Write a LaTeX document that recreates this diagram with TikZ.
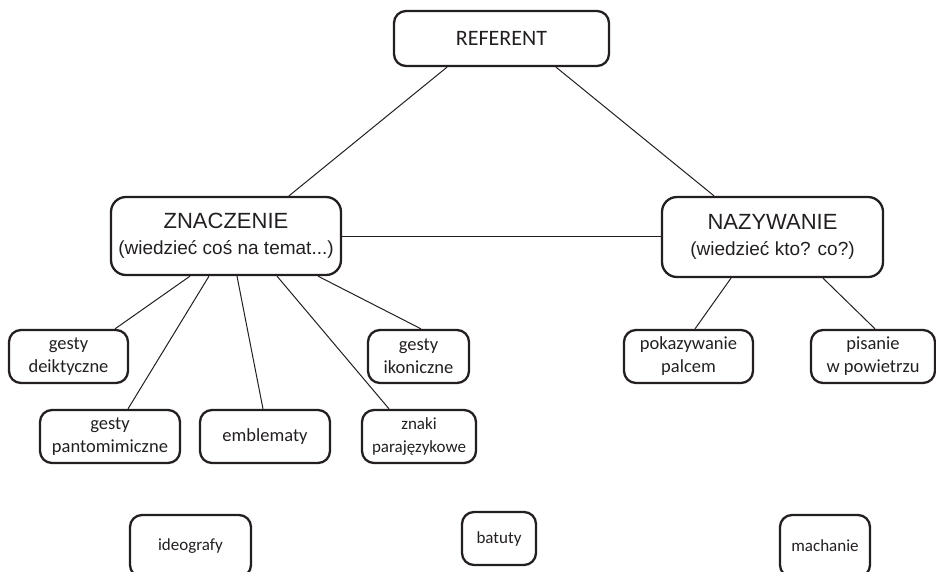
\documentclass[tikz,border=0pt]{standalone}
\usepackage{fontspec}
\setmainfont{Carlito}
\newfontfamily\arialf{Liberation Sans}
\definecolor{ink}{HTML}{231F20}
\begin{document}
\begin{tikzpicture}[x=1pt,y=-1pt,
  box/.style={draw=ink, line width=2.3pt, rounded corners=12pt, align=center,
    inner sep=0pt, text=ink},
  bigbox/.style={box, rounded corners=15pt, font=\arialf\fontsize{19}{26}\selectfont},
  smallbox/.style={box, minimum height=53pt, font=\fontsize{18.5}{23}\selectfont},
  lowbox/.style={box, font=\fontsize{17}{20}\selectfont},
  link/.style={draw=ink, line width=1pt}]
\useasboundingbox (0,0) rectangle (936,571);

% top level
\node[box, minimum width=215pt, minimum height=55pt, font=\fontsize{22}{26}\selectfont]
  (ref) at (501.5,38.5) {REFERENT};

% second level
\node[bigbox, minimum width=230pt, minimum height=78pt] (zn) at (226,236)
  {{\fontsize{22}{26}\selectfont ZNACZENIE}\\(wiedzieć coś na temat...)};
\node[bigbox, minimum width=221pt, minimum height=80pt] (na) at (772.5,237)
  {{\fontsize{22}{26}\selectfont NAZYWANIE}\\(wiedzieć kto? co?)};

% kinds of meaning
\node[smallbox, minimum width=119pt] (gd) at (68.5,356.5) {gesty\\deiktyczne};
\node[smallbox, minimum width=101pt] (gi) at (418.5,356.5) {gesty\\ikoniczne};
\node[smallbox, minimum width=140pt] (gp) at (110,436.5) {gesty\\pantomimiczne};
\node[smallbox, minimum width=130pt] (em) at (265,436.5) {emblematy};
\node[smallbox, minimum width=114pt, font=\fontsize{17}{23}\selectfont] (zp) at (419,436.5) {znaki\\parajęzykowe};

% kinds of naming
\node[smallbox, minimum width=129pt] (pp) at (688.5,356.5) {pokazywanie\\palcem};
\node[smallbox, minimum width=124pt] (pw) at (873,356.5) {pisanie\\w powietrzu};

% loose boxes at the bottom
\node[lowbox, minimum width=121pt, minimum height=62pt] (id) at (190.5,546) {ideografy};
\node[lowbox, minimum width=74pt, minimum height=53pt] (ba) at (499,538.5) {batuty};
\node[lowbox, minimum width=90pt, minimum height=62pt] (ma) at (825,546) {machanie};

% connectors
\draw[link] ([xshift=-54.5pt]ref.south) -- ([xshift=63pt]zn.north);
\draw[link] ([xshift=54.5pt]ref.south) -- ([xshift=-58.5pt]na.north);
\draw[link] (zn.east) -- (zn.east -| na.west);

\draw[link] ([xshift=-36pt]zn.south) -- ([xshift=46.5pt]gd.north);
\draw[link] ([xshift=-17pt]zn.south) -- ([xshift=18pt]gp.north);
\draw[link] ([xshift=11pt]zn.south) -- ([xshift=-2pt]em.north);
\draw[link] ([xshift=51pt]zn.south) -- ([xshift=-30pt]zp.north);
\draw[link] ([xshift=92pt]zn.south) -- ([xshift=2.5pt]gi.north);

\draw[link] ([xshift=-41.5pt]na.south) -- ([xshift=6.5pt]pp.north);
\draw[link] ([xshift=50.5pt]na.south) -- ([xshift=2pt]pw.north);
\end{tikzpicture}
\end{document}
